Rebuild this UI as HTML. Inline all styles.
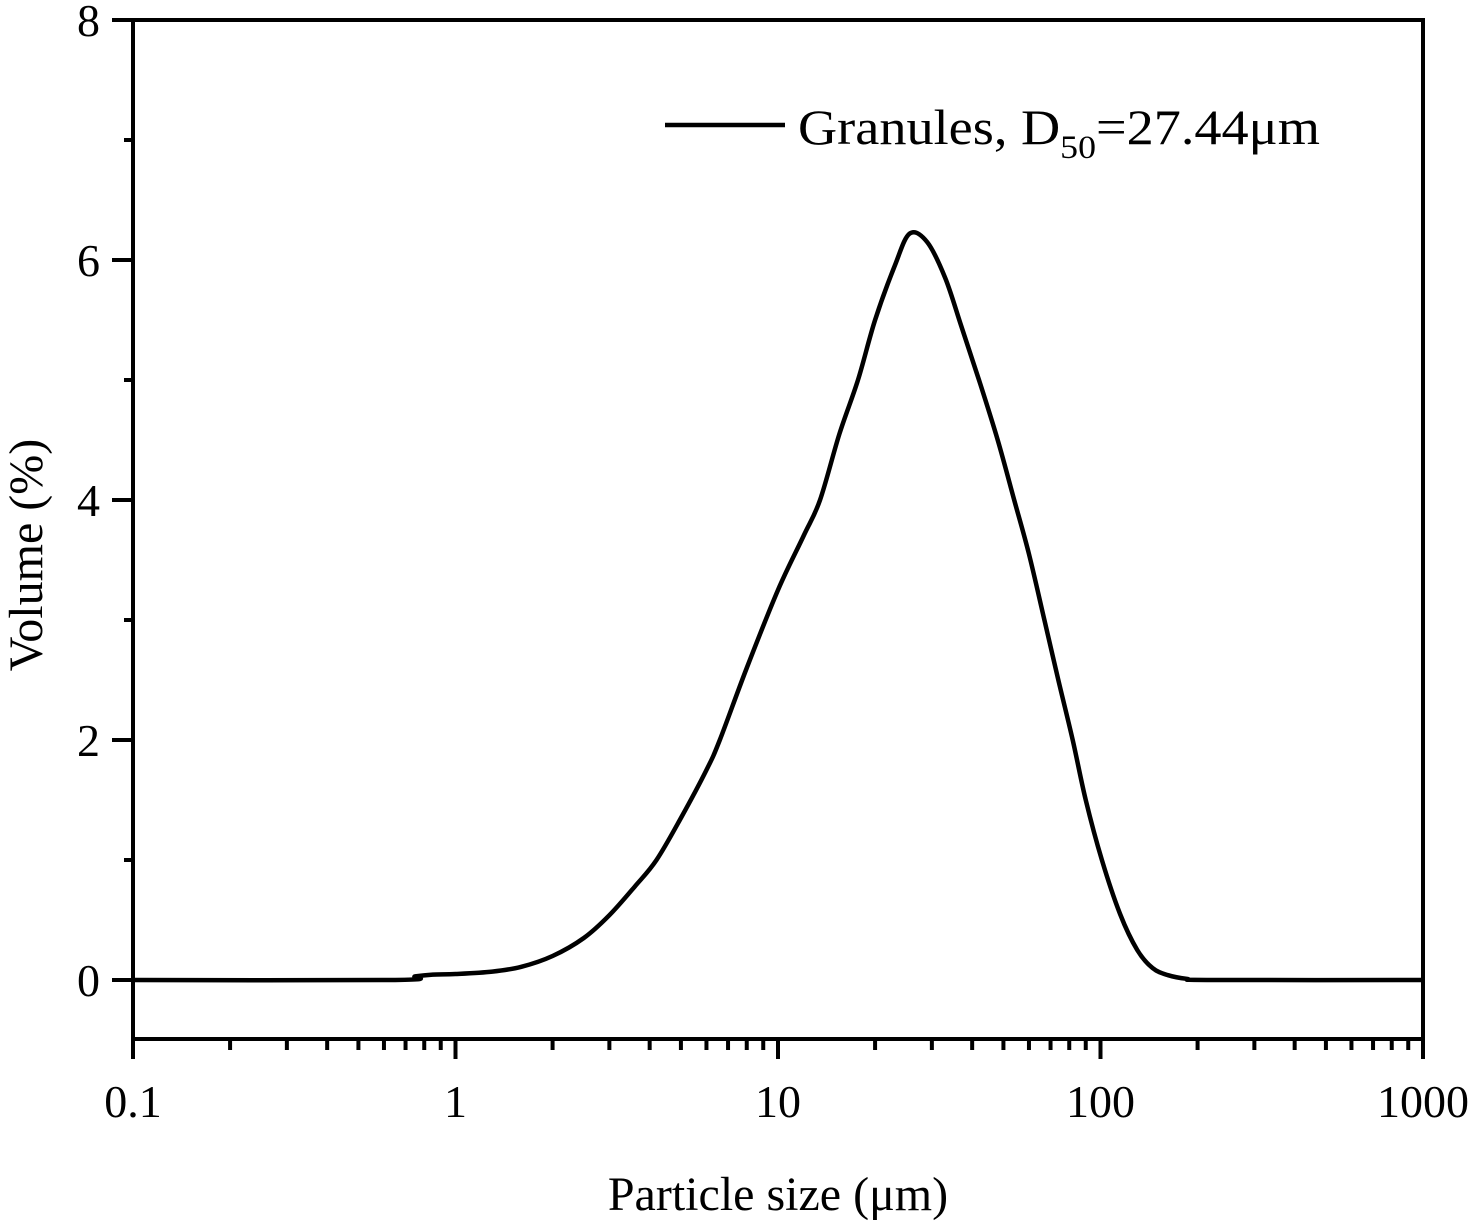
<!DOCTYPE html>
<html><head><meta charset="utf-8"><style>
html,body{margin:0;padding:0;background:#fff;}
svg{display:block;font-family:"Liberation Serif",serif;}
</style></head><body>
<svg id="chart" width="1476" height="1227" viewBox="0 0 1476 1227" xmlns="http://www.w3.org/2000/svg">
<rect x="133" y="20" width="1290" height="1019" fill="none" stroke="#000" stroke-width="4"/>
<g id="axes"></g>
<path id="curve" d="" fill="none" stroke="#000" stroke-width="4.5" stroke-linejoin="round"/>
<g>
<line x1="665" y1="125" x2="785" y2="125" stroke="#000" stroke-width="4.5"/>
<text x="798" y="144" font-size="50" textLength="522" lengthAdjust="spacingAndGlyphs">Granules, D<tspan font-size="33" dy="14">50</tspan><tspan dy="-14">=27.44μm</tspan></text>
</g>
<text x="778" y="1210" font-size="48" text-anchor="middle">Particle size (μm)</text>
<text transform="translate(42,555) rotate(-90)" font-size="48" text-anchor="middle">Volume (%)</text>
</svg>
<script>
const sizes=[0.1,0.65,0.75,0.85,1,1.3,1.6,2,2.5,3,3.6,4.2,5,6,6.6,8,10,12,13.5,15.5,17.7,20,23,25.6,29,33,37,42,48,54,60,67,74,82,90,101,115,130,145,162,185,220,1000];
const volumes=[0,0,0.03,0.045,0.05,0.07,0.11,0.2,0.35,0.54,0.78,1.0,1.35,1.75,2.0,2.6,3.25,3.7,4.0,4.55,5.0,5.5,5.95,6.22,6.15,5.85,5.45,5.0,4.5,4.0,3.55,3.0,2.5,2.0,1.5,1.0,0.55,0.25,0.1,0.04,0.01,0,0];
const xTickValues=[0.1,1,10,100,1000];
const xTickLabels=["0.1","1","10","100","1000"];
const yTickValues=[0,2,4,6,8];
const yTickLabels=["0","2","4","6","8"];
const X=v=>133+(Math.log10(v)+1)*322.5;
const Y=v=>980-v*120;
const ns="http://www.w3.org/2000/svg";
const ax=document.getElementById('axes');
function ln(x1,y1,x2,y2,name){const l=document.createElementNS(ns,'line');l.setAttribute('x1',x1);l.setAttribute('y1',y1);l.setAttribute('x2',x2);l.setAttribute('y2',y2);l.setAttribute('stroke','#000');l.setAttribute('stroke-width','4');


ax.appendChild(l);}
function tx(x,y,s,anchor,name){const t=document.createElementNS(ns,'text');t.setAttribute('x',x);t.setAttribute('y',y);t.setAttribute('font-size','46');t.setAttribute('text-anchor',anchor);t.textContent=s;


ax.appendChild(t);}
xTickValues.forEach((v,i)=>{ln(X(v),1039,X(v),1059,'x-major-tick');tx(X(v),1117,xTickLabels[i],'middle','x-tick-label');
 if(i<xTickValues.length-1){for(let k=2;k<=9;k++){ln(X(v*k),1039,X(v*k),1050,'x-minor-tick');}}});
yTickValues.forEach((v,i)=>{ln(112,Y(v),133,Y(v),'y-major-tick');tx(100,Y(v)+16,yTickLabels[i],'end','y-tick-label');
 if(i<yTickValues.length-1){ln(124,Y(v+1),133,Y(v+1),'y-minor-tick');}});
// Catmull-Rom smoothing in pixel space
const pts=sizes.map((s,i)=>[X(s),Y(volumes[i])]);
let d='M'+pts[0][0]+','+pts[0][1];
for(let i=0;i<pts.length-1;i++){const p0=pts[Math.max(0,i-1)],p1=pts[i],p2=pts[i+1],p3=pts[Math.min(pts.length-1,i+2)];
 const c1=[p1[0]+(p2[0]-p0[0])/6,p1[1]+(p2[1]-p0[1])/6],c2=[p2[0]-(p3[0]-p1[0])/6,p2[1]-(p3[1]-p1[1])/6];
 d+=' C'+c1+' '+c2+' '+p2;}
document.getElementById('curve').setAttribute('d',d);
</script>
</body></html>
